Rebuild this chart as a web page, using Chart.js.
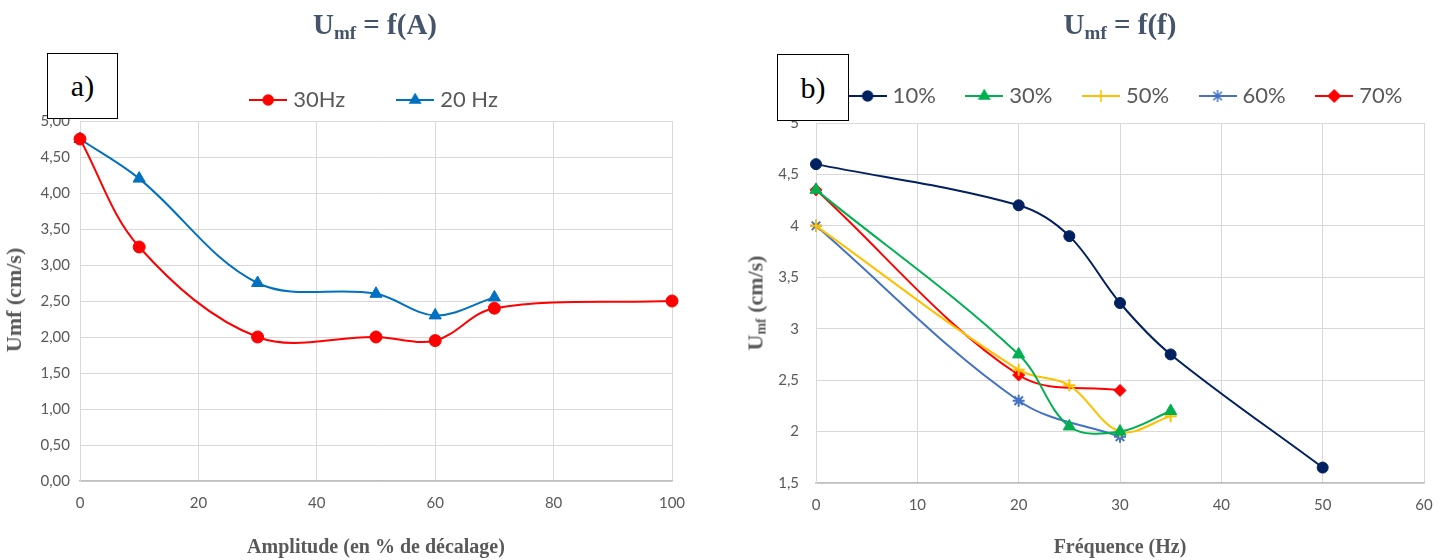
<!DOCTYPE html>
<html>
<head>
<meta charset="utf-8">
<script src="https://cdn.jsdelivr.net/npm/chart.js@4/dist/chart.umd.min.js"></script>
<style>
  body { margin: 0; width: 1448px; height: 560px; background: #fff; overflow: hidden; position: relative; }
  .panel { position: absolute; top: 0; height: 560px; }
  .title { position: absolute; top: 8px; font-family: "Liberation Serif", serif; font-weight: bold; font-size: 29px; color: #44546A; white-space: nowrap; transform: translateX(-50%); }
  .title sub { font-size: 19px; vertical-align: -5px; }
  .ytitle { position: absolute; font-family: "Liberation Serif", serif; font-weight: bold; font-size: 22px; color: #595959; white-space: nowrap; transform: translate(-50%, -50%) rotate(-90deg); }
  .ytitle sub { font-size: 14px; vertical-align: -3px; }
  .tag { position: absolute; border: 1px solid #000; background: #fff; font-family: "Liberation Serif", serif; font-size: 30px; color: #000; display: flex; align-items: center; justify-content: center; box-sizing: border-box; }
</style>
</head>
<body>
<div class="panel" style="left:0;width:752px"><canvas id="chartA" width="752" height="560"></canvas></div>
<div class="panel" style="left:730px;width:796px"><canvas id="chartB" width="796" height="560"></canvas></div>

<div class="title" style="left:375px">U<sub>mf</sub> = f(A)</div>
<div class="title" style="left:1120px">U<sub>mf</sub> = f(f)</div>
<div class="ytitle" style="left:14px;top:300px">Umf (cm/s)</div>
<div class="ytitle" style="left:756px;top:303px">U<sub>mf</sub> (cm/s)</div>
<div class="tag" style="left:47px;top:53px;width:71px;height:66px">a)</div>
<div class="tag" style="left:777px;top:54px;width:72px;height:67px">b)</div>

<script>
// --- data: left chart, Umf vs amplitude
const ampLabels = ["30Hz", "20 Hz"];
const amp30 = [0, 10, 30, 50, 60, 70, 100];
const umf30 = [4.75, 3.25, 2.00, 2.00, 1.95, 2.40, 2.50];
const amp20 = [0, 10, 30, 50, 60, 70];
const umf20 = [4.75, 4.20, 2.75, 2.60, 2.30, 2.55];

// --- data: right chart, Umf vs frequency
const freqLabels = ["10%", "30%", "50%", "60%", "70%"];
const freq10 = [0, 20, 25, 30, 35, 50];
const umf10 = [4.6, 4.2, 3.9, 3.25, 2.75, 1.65];
const freq30 = [0, 20, 25, 30, 35];
const umfF30 = [4.35, 2.75, 2.05, 2.0, 2.2];
const freq50 = [0, 20, 25, 30, 35];
const umf50 = [4.0, 2.6, 2.45, 2.0, 2.15];
const freq60 = [0, 20, 30];
const umf60 = [4.0, 2.3, 1.95];
const freq70 = [0, 20, 30];
const umf70 = [4.35, 2.55, 2.4];

const GRID = "#D9D9D9";
const TEXT = "#595959";

const pts = (xs, ys) => xs.map((x, i) => ({ x: x, y: ys[i] }));

// small line + marker picture for the legend
function legendIcon(color, style, r) {
  const c = document.createElement("canvas");
  c.width = 38; c.height = 16;
  const g = c.getContext("2d");
  g.strokeStyle = color;
  g.fillStyle = color;
  g.lineWidth = 2;
  g.beginPath(); g.moveTo(0, 8); g.lineTo(38, 8); g.stroke();
  g.lineWidth = 1.5;
  Chart.helpers.drawPoint(g, { pointStyle: style, radius: r, borderWidth: 1.5 }, 19, 8);
  return c;
}

function series(label, data, color, style, r) {
  return {
    label: label,
    data: data,
    borderColor: color,
    backgroundColor: color,
    borderWidth: 2,
    pointStyle: style,
    pointRadius: r,
    pointBorderWidth: style === "cross" || style === "star" ? 2 : 1,
    tension: 0.35,
    clip: false,
    icon: legendIcon(color, style, style === "circle" ? 5 : 6)
  };
}

function options(cfg) {
  return {
    responsive: false,
    animation: false,
    layout: { padding: { top: cfg.padTop, left: 0, right: 0, bottom: 0 } },
    plugins: {
      tooltip: { enabled: false },
      legend: {
        position: "top",
        labels: {
          usePointStyle: true,
          pointStyleWidth: 28,
          padding: cfg.legendGap,
          color: TEXT,
          font: { family: "Lato", size: 22 },
          generateLabels: chart => chart.data.datasets.map((ds, i) => ({
            text: ds.label,
            pointStyle: ds.icon,
            fillStyle: ds.borderColor,
            strokeStyle: ds.borderColor,
            lineWidth: 0,
            fontColor: TEXT,
            hidden: false,
            datasetIndex: i
          }))
        }
      }
    },
    scales: {
      x: {
        type: "linear",
        min: cfg.xMin, max: cfg.xMax,
        ticks: { stepSize: cfg.xStep, color: TEXT, font: { family: "Lato", size: 15 }, padding: 13 },
        grid: { color: GRID, drawTicks: false },
        border: { color: "#BFBFBF", width: 1.5 },
        title: { display: true, text: cfg.xTitle, color: TEXT, font: { family: "Liberation Serif", weight: "bold", size: 20 }, padding: { top: 0, bottom: 0 } },
        afterFit: s => { s.height = cfg.xHeight; }
      },
      xTop: {
        type: "linear", position: "top", display: true,
        ticks: { display: false }, grid: { display: false, drawTicks: false }, border: { display: false },
        afterFit: s => { s.height = cfg.topGap; }
      },
      y: {
        min: cfg.yMin, max: cfg.yMax,
        ticks: { stepSize: 0.5, color: TEXT, font: { family: "Lato", size: 15 }, padding: cfg.yPad, callback: cfg.yFmt },
        grid: { color: GRID, drawTicks: false },
        border: { color: GRID },
        afterFit: s => { s.width = cfg.yWidth; }
      },
      yRight: {
        type: "linear", position: "right", display: true,
        ticks: { display: false }, grid: { display: false, drawTicks: false }, border: { display: false },
        afterFit: s => { s.width = cfg.rightWidth; }
      }
    }
  };
}

new Chart(document.getElementById("chartA"), {
  type: "line",
  data: {
    datasets: [
      series(ampLabels[0], pts(amp30, umf30), "#FF0000", "circle", 6),
      series(ampLabels[1], pts(amp20, umf20), "#0070C0", "triangle", 7)
    ]
  },
  options: options({
    padTop: 33, legendGap: 56, xMin: 0, xMax: 100, xStep: 20,
    xTitle: "Amplitude (en % de décalage)", xHeight: 79, topGap: 0,
    yMin: 0, yMax: 5, yPad: 10, yWidth: 80, rightWidth: 80,
    yFmt: v => v.toFixed(2).replace(".", ",")
  })
});

new Chart(document.getElementById("chartB"), {
  type: "line",
  data: {
    datasets: [
      series(freqLabels[0], pts(freq10, umf10), "#002060", "circle", 5.5),
      series(freqLabels[1], pts(freq30, umfF30), "#00B050", "triangle", 7),
      series(freqLabels[2], pts(freq50, umf50), "#FFC000", "cross", 6),
      series(freqLabels[3], pts(freq60, umf60), "#4472C4", "star", 6),
      series(freqLabels[4], pts(freq70, umf70), "#FF0000", "rectRot", 6)
    ]
  },
  options: options({
    padTop: 50.5, legendGap: 34.5, xMin: 0, xMax: 60, xStep: 10,
    xTitle: "Fréquence (Hz)", xHeight: 77, topGap: 6,
    yMin: 1.5, yMax: 5, yPad: 17, yWidth: 86, rightWidth: 102,
    yFmt: v => String(v).replace(".", ",")
  })
});
</script>
</body>
</html>
